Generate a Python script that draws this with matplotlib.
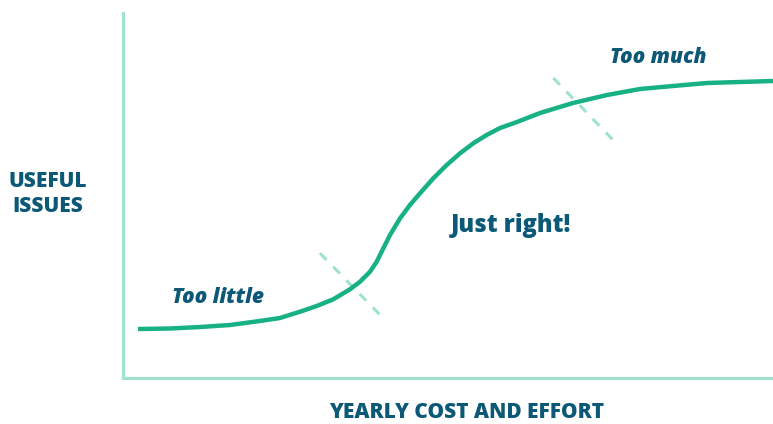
import numpy as np
import matplotlib.pyplot as plt

# curve: effort (0-100) vs useful issues (0-100)
effort = [2.31, 7.23, 11.85, 16.46, 21.08, 24.15, 27.23, 29.80, 32.35, 34.92,
          36.46, 38.00, 39.03, 40.05, 41.08, 42.62, 44.15, 45.69, 47.74, 49.80,
          51.85, 53.89, 55.95, 58.00, 60.62, 64.15, 69.23, 74.46, 79.54, 84.62,
          89.85, 94.92, 100.0]
useful = [13.42, 13.56, 13.97, 14.52, 15.62, 16.44, 18.16, 19.73, 21.56, 24.30,
          26.38, 29.12, 31.86, 35.53, 39.18, 43.75, 47.40, 50.60, 54.71, 58.36,
          61.56, 64.30, 66.58, 68.49, 70.14, 72.60, 75.34, 77.53, 79.18, 80.00,
          80.82, 81.10, 81.37]

# the two dashed boundary marks
cut_low_x = [30.3, 39.7]
cut_low_y = [34.2, 17.0]
cut_high_x = [66.2, 75.5]
cut_high_y = [82.2, 65.0]

zone_labels = ["Too little", "Just right!", "Too much"]

green = "#17b185"
light = "#9fe3cf"
navy = "#0b5877"

plt.rcParams['font.family'] = ['Open Sans', 'DejaVu Sans']

fig = plt.figure(figsize=(7.73, 4.24), dpi=100)
ax = fig.add_axes([123 / 773, 1 - 378 / 424, 650 / 773, 365 / 424])
ax.set_xlim(0, 100)
ax.set_ylim(0, 100)

ax.plot(effort, useful, color=green, lw=3.2, solid_capstyle='butt',
        solid_joinstyle='round', zorder=3)
ax.plot(cut_low_x, cut_low_y, color=light, lw=2.2, dashes=(3.1, 3.1), zorder=2)
ax.plot(cut_high_x, cut_high_y, color=light, lw=2.2, dashes=(3.1, 3.1), zorder=2)

for side in ['top', 'right']:
    ax.spines[side].set_visible(False)
for side in ['left', 'bottom']:
    ax.spines[side].set_color(light)
    ax.spines[side].set_linewidth(2.2)
ax.set_xticks([])
ax.set_yticks([])

ax.text(7.5, 22.0, zone_labels[0], color=navy, fontsize=15, fontweight=800,
        style='italic', ha='left', va='center')
ax.text(50.5, 41.9, zone_labels[1], color=navy, fontsize=17, fontweight=800,
        ha='left', va='center')
ax.text(75.0, 87.9, zone_labels[2], color=navy, fontsize=15, fontweight=800,
        style='italic', ha='left', va='center')

fig.text(48 / 773, 1 - 194 / 424, "USEFUL\nISSUES", color=navy, fontsize=15,
         fontweight=800, ha='center', va='center', linespacing=1.3)
fig.text(467 / 773, 1 - 413 / 424, "YEARLY COST AND EFFORT", color=navy,
         fontsize=15, fontweight=800, ha='center', va='center')

fig.savefig("out.png", dpi=100, facecolor='white')
